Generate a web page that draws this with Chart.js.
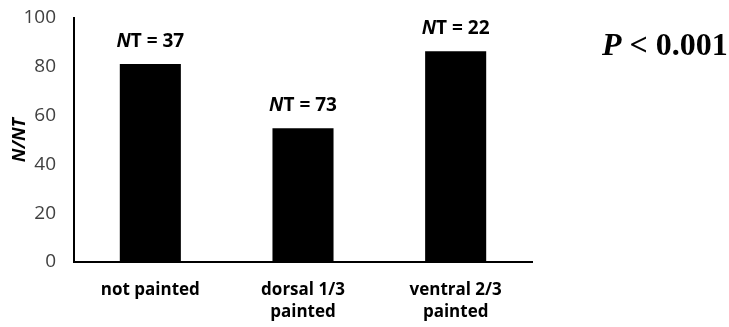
<!DOCTYPE html>
<html>
<head>
<meta charset="utf-8">
<script src="https://cdn.jsdelivr.net/npm/chart.js@4/dist/chart.umd.min.js"></script>
<style>
  html, body { margin: 0; padding: 0; background: #fff; }
  #wrap { width: 729px; height: 327px; }
</style>
</head>
<body>
<div id="wrap"><canvas id="myChart"></canvas></div>
<script>
// values (N/NT in %)
const categories = ['not painted', ['dorsal 1/3', 'painted'], ['ventral 2/3', 'painted']];
const ratios = [81.1, 54.8, 86.4];
const totals = [37, 73, 22];
const yTicks = [0, 20, 40, 60, 80, 100];
const pText = '0.001';

const sansFont = "'Open Sans', sans-serif";

// draws "NT = xx" above each bar, N in italics
const ntLabels = {
  id: 'ntLabels',
  afterDatasetsDraw(chart) {
    const ctx = chart.ctx;
    const meta = chart.getDatasetMeta(0);
    ctx.save();
    ctx.fillStyle = '#000';
    ctx.textBaseline = 'alphabetic';
    ctx.textAlign = 'left';
    meta.data.forEach((bar, i) => {
      const rest = 'T = ' + totals[i];
      ctx.font = "italic bold 19px " + sansFont;
      const w1 = ctx.measureText('N').width;
      ctx.font = "bold 19px " + sansFont;
      const w2 = ctx.measureText(rest).width;
      const x0 = bar.x - (w1 + w2) / 2;
      const y = bar.y - 17;
      ctx.font = "italic bold 19px " + sansFont;
      ctx.fillText('N', x0, y);
      ctx.font = "bold 19px " + sansFont;
      ctx.fillText(rest, x0 + w1, y);
    });
    ctx.restore();
  }
};

// P value on the right + rotated y title
const extraText = {
  id: 'extraText',
  afterDraw(chart) {
    const ctx = chart.ctx;
    ctx.save();
    ctx.fillStyle = '#000';
    ctx.textBaseline = 'alphabetic';
    ctx.textAlign = 'left';
    ctx.font = "italic bold 32px 'Liberation Serif', serif";
    const wP = ctx.measureText('P').width;
    ctx.fillText('P', 602, 55);
    ctx.font = "bold 32px 'Liberation Serif', serif";
    ctx.fillText(' < ' + pText, 602 + wP, 55);

    const yScale = chart.scales.y;
    ctx.translate(25, (yScale.top + yScale.bottom) / 2);
    ctx.rotate(-Math.PI / 2);
    ctx.textAlign = 'center';
    ctx.font = "italic bold 18px " + sansFont;
    ctx.fillText('N/NT', 0, 0);
    ctx.restore();
  }
};

const chartTarget = document.querySelector('#myChart');
const myChart = new Chart(chartTarget, {
  type: 'bar',
  data: {
    labels: categories,
    datasets: [{
      label: 'N/NT',
      data: ratios,
      backgroundColor: '#000',
      borderWidth: 0,
      barPercentage: 0.4,
      categoryPercentage: 1.0
    }]
  },
  options: {
    responsive: true,
    maintainAspectRatio: false,
    animation: false,
    layout: { padding: { left: 0, right: 197, top: 18, bottom: 0 } },
    plugins: {
      legend: { display: false },
      tooltip: { enabled: false }
    },
    scales: {
      x: {
        grid: { display: true, drawOnChartArea: false, drawTicks: false },
        border: { display: true, color: '#000', width: 2 },
        ticks: {
          color: '#000',
          padding: 17,
          maxRotation: 0,
          autoSkip: false,
          font: { family: sansFont, size: 17, weight: 'bold', lineHeight: '22px' }
        },
        afterFit: (axis) => {
          axis.height = 65;
          axis.paddingLeft = 0;
          axis.paddingRight = 0;
        }
      },
      y: {
        min: 0,
        max: 100,
        afterBuildTicks: (axis) => { axis.ticks = yTicks.map((v) => ({ value: v })); },
        grid: { display: true, drawOnChartArea: false, drawTicks: false },
        border: { display: true, color: '#000', width: 2 },
        ticks: {
          color: '#404040',
          padding: 18,
          font: { family: sansFont, size: 19 }
        },
        afterFit: (axis) => {
          axis.width = 74;
          axis.paddingTop = 0;
          axis.paddingBottom = 0;
        }
      }
    }
  },
  plugins: [ntLabels, extraText]
});
</script>
</body>
</html>
